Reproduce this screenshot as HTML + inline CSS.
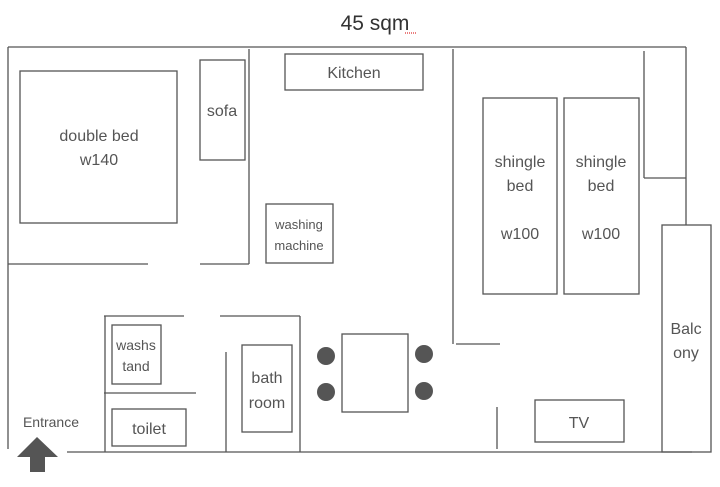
<!DOCTYPE html>
<html><head><style>body{margin:0;background:#fff}</style></head><body>
<svg width="720" height="482" xmlns="http://www.w3.org/2000/svg" font-family="Liberation Sans, sans-serif" fill="none" stroke="#555" stroke-width="1.3">
<text x="375" y="30" font-size="21" fill="#333" stroke="none" text-anchor="middle">45 sqm</text>
<line x1="405" y1="33" x2="416" y2="33" stroke="#d33" stroke-dasharray="1,1"/>
<line x1="8" y1="47" x2="686" y2="47"/>
<line x1="8" y1="47" x2="8" y2="449"/>
<line x1="686" y1="47" x2="686" y2="225"/>
<line x1="67" y1="452" x2="692" y2="452"/>
<rect x="20" y="71" width="157" height="152"/>
<rect x="200" y="60" width="45" height="100"/>
<line x1="249" y1="49" x2="249" y2="264"/>
<line x1="8" y1="264" x2="148" y2="264"/>
<line x1="200" y1="264" x2="249" y2="264"/>
<rect x="266" y="204" width="67" height="59"/>
<rect x="285" y="54" width="138" height="36"/>
<line x1="453" y1="49" x2="453" y2="344"/>
<line x1="456" y1="344" x2="500" y2="344"/>
<rect x="483" y="98" width="74" height="196"/>
<rect x="564" y="98" width="75" height="196"/>
<line x1="644" y1="51" x2="644" y2="178"/>
<line x1="644" y1="178" x2="686" y2="178"/>
<rect x="662" y="225" width="49" height="227"/>
<rect x="535" y="400" width="89" height="42"/>
<line x1="497" y1="407" x2="497" y2="449"/>
<rect x="342" y="334" width="66" height="78"/>
<g fill="#555" stroke="none">
<circle cx="326" cy="356" r="9"/><circle cx="326" cy="392" r="9"/>
<circle cx="424" cy="354" r="9"/><circle cx="424" cy="391" r="9"/>
<polygon points="37,437 17,457 30,457 30,472 45,472 45,457 58,457"/>
</g>
<line x1="104" y1="316" x2="184" y2="316"/>
<line x1="105" y1="316" x2="105" y2="452"/>
<rect x="112" y="325" width="49" height="59"/>
<line x1="104" y1="393" x2="196" y2="393"/>
<rect x="112" y="409" width="74" height="37"/>
<line x1="220" y1="316" x2="300" y2="316"/>
<line x1="300" y1="316" x2="300" y2="452"/>
<line x1="226" y1="352" x2="226" y2="452"/>
<rect x="242" y="345" width="50" height="87"/>
<g fill="#555" stroke="none" font-size="16" text-anchor="middle">
<text x="99" y="141">double bed</text><text x="99" y="165">w140</text>
<text x="222" y="116">sofa</text>
<text x="354" y="78">Kitchen</text>
<text x="299" y="229" font-size="13">washing</text><text x="299" y="250" font-size="13">machine</text>
<text x="520" y="167">shingle</text><text x="520" y="191">bed</text><text x="520" y="239">w100</text>
<text x="601" y="167">shingle</text><text x="601" y="191">bed</text><text x="601" y="239">w100</text>
<text x="686" y="334">Balc</text><text x="686" y="358">ony</text>
<text x="579" y="428">TV</text>
<text x="136" y="350" font-size="14">washs</text><text x="136" y="371" font-size="14">tand</text>
<text x="149" y="434">toilet</text>
<text x="267" y="383">bath</text><text x="267" y="408">room</text>
<text x="51" y="427" font-size="14">Entrance</text>
</g>
</svg>
</body></html>
